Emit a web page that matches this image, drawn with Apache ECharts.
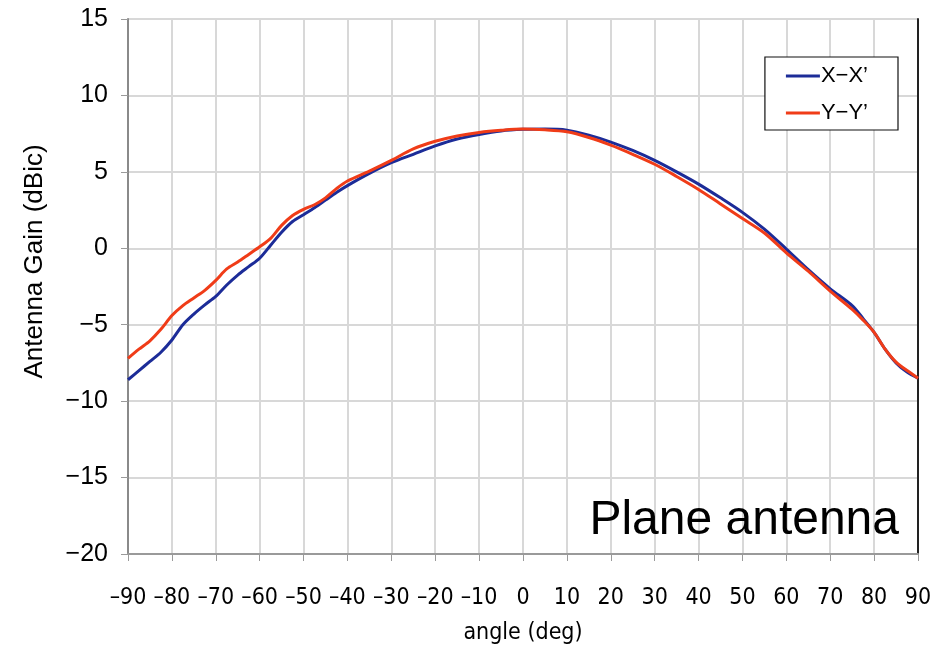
<!DOCTYPE html>
<html>
<head>
<meta charset="utf-8">
<script src="https://cdn.jsdelivr.net/npm/echarts@6/dist/echarts.min.js"></script>
<style>
  html, body { margin: 0; padding: 0; background: #fff; }
  #chart { width: 945px; height: 650px; }
</style>
</head>
<body>
<div id="chart"></div>
<script>
// Measured antenna gain (dBic) versus angle (deg)
const angles = [-90, -87.5, -85, -82.5, -80, -77.5, -75, -72.5, -70, -67.5, -65, -62.5, -60, -57.5, -55, -52.5, -50, -47.5, -45, -42.5, -40, -35, -30, -25, -20, -15, -10, -5, 0, 5, 10, 15, 20, 25, 30, 35, 40, 45, 50, 55, 60, 65, 70, 75, 77.5, 80, 82.5, 85, 87.5, 90];

const gainXX = [-8.6, -8.0, -7.4, -6.8, -6.0, -5.0, -4.3, -3.7, -3.15, -2.4, -1.75, -1.2, -0.65, 0.2, 1.05, 1.75, 2.2, 2.65, 3.15, 3.65, 4.1, 4.9, 5.6, 6.15, 6.7, 7.15, 7.45, 7.68, 7.78, 7.8, 7.73, 7.4, 6.95, 6.4, 5.75, 5.0, 4.2, 3.3, 2.35, 1.25, -0.05, -1.4, -2.65, -3.75, -4.6, -5.5, -6.6, -7.5, -8.1, -8.5];

const gainYY = [-7.2, -6.6, -6.05, -5.3, -4.4, -3.75, -3.25, -2.75, -2.1, -1.35, -0.9, -0.4, 0.1, 0.65, 1.5, 2.15, 2.55, 2.85, 3.3, 3.9, 4.4, 5.05, 5.75, 6.5, 7.0, 7.35, 7.58, 7.72, 7.8, 7.75, 7.62, 7.25, 6.75, 6.15, 5.5, 4.7, 3.85, 2.9, 1.95, 1.0, -0.3, -1.5, -2.8, -4.0, -4.7, -5.5, -6.6, -7.45, -8.0, -8.5];

const seriesNames = ['X\u2212X\u2019', 'Y\u2212Y\u2019'];
const seriesColors = ['#1c2c98', '#f03c18'];

const xTicks = { min: -90, max: 90, step: 10 };
const yTicks = { min: -20, max: 15, step: 5 };

const pairs = (ys) => angles.map((a, i) => [a, ys[i]]);
const minusFmt = (v) => (v < 0 ? '\u2212' + Math.abs(v) : String(v));
const dashFmt = (v) => (v < 0 ? '\u2013' + Math.abs(v) : String(v));

const chart = echarts.init(document.getElementById('chart'), null, { renderer: 'canvas' });

const narrow = '"DejaVu Sans Condensed", "Liberation Sans Narrow", sans-serif';
const sans = '"Liberation Sans", Arial, sans-serif';

chart.setOption({
  backgroundColor: '#ffffff',
  animation: false,
  grid: { left: 128, right: 27, top: 19, bottom: 95, containLabel: false },
  legend: {
    orient: 'vertical',
    right: 47,
    top: 57,
    width: 134,
    padding: [8, 30, 6, 21],
    itemGap: 15,
    itemWidth: 34,
    itemHeight: 3,
    icon: 'rect',
    backgroundColor: '#ffffff',
    borderColor: '#111',
    borderWidth: 1.2,
    textStyle: { fontFamily: sans, fontSize: 22, color: '#000', padding: [0, 0, 0, -4] },
    data: seriesNames
  },
  xAxis: {
    type: 'value',
    min: xTicks.min,
    max: xTicks.max,
    interval: xTicks.step,
    name: 'angle (deg)',
    nameLocation: 'middle',
    nameGap: 68,
    nameTextStyle: { fontFamily: narrow, fontSize: 23, color: '#000' },
    axisLine: { show: true, onZero: false, lineStyle: { color: '#9a9a9a', width: 2 } },
    axisTick: { show: true, inside: false, length: 7, lineStyle: { color: '#9a9a9a', width: 1 } },
    axisLabel: { fontFamily: narrow, fontSize: 23, color: '#000', margin: 33, formatter: dashFmt },
    splitLine: { show: true, lineStyle: { color: '#d8d8d8', width: 2 } }
  },
  yAxis: [
    {
      type: 'value',
      min: yTicks.min,
      max: yTicks.max,
      interval: yTicks.step,
      name: 'Antenna Gain (dBic)',
      nameLocation: 'middle',
      nameGap: 80,
      nameRotate: 90,
      nameTextStyle: { fontFamily: sans, fontSize: 26, color: '#000', padding: [0, 0, 0, 50] },
      axisLine: { show: true, onZero: false, lineStyle: { color: '#8a8a8a', width: 2 } },
      axisTick: { show: true, inside: false, length: 7, lineStyle: { color: '#9a9a9a', width: 1 } },
      axisLabel: { fontFamily: sans, fontSize: 25, color: '#000', margin: 20, formatter: minusFmt },
      splitLine: { show: true, lineStyle: { color: '#d8d8d8', width: 2 } }
    },
    {
      type: 'value',
      position: 'right',
      min: yTicks.min,
      max: yTicks.max,
      interval: yTicks.step,
      axisLine: { show: true, onZero: false, lineStyle: { color: '#222', width: 2 } },
      axisTick: { show: false },
      axisLabel: { show: false },
      splitLine: { show: false }
    }
  ],
  graphic: [
    {
      type: 'text',
      right: 46,
      top: 497,
      style: {
        text: 'Plane antenna',
        fontFamily: sans,
        fontSize: 48,
        fill: '#000'
      },
      z: 10
    }
  ],
  series: [
    {
      name: seriesNames[0],
      type: 'line',
      data: pairs(gainXX),
      smooth: 0.3,
      showSymbol: false,
      color: seriesColors[0],
      lineStyle: { width: 3, color: seriesColors[0] },
      z: 3
    },
    {
      name: seriesNames[1],
      type: 'line',
      data: pairs(gainYY),
      smooth: 0.3,
      showSymbol: false,
      color: seriesColors[1],
      lineStyle: { width: 3, color: seriesColors[1] },
      z: 4
    }
  ]
});
</script>
</body>
</html>
